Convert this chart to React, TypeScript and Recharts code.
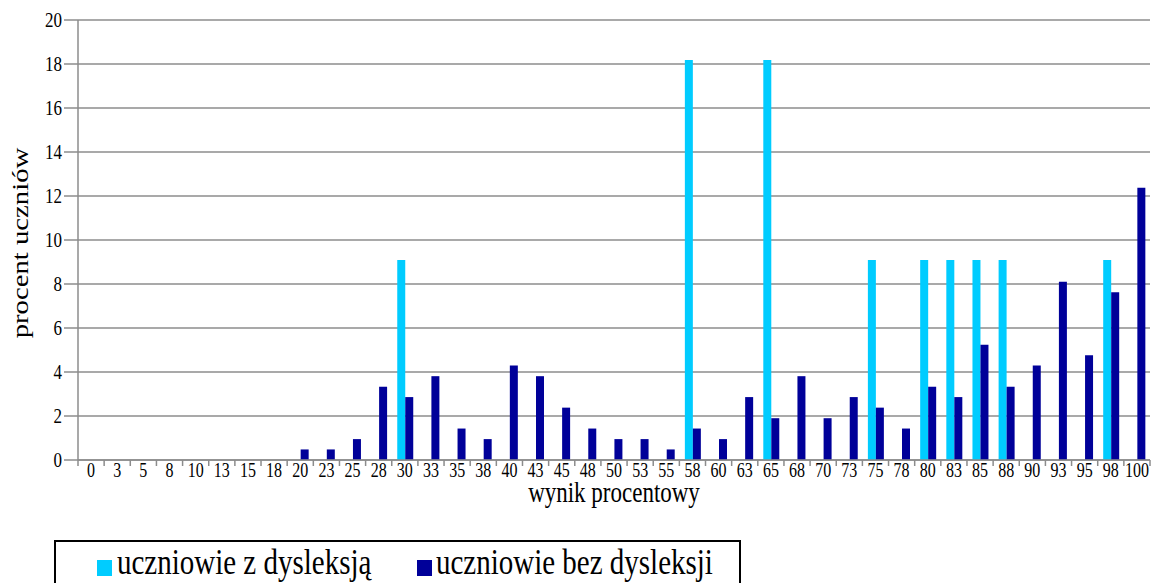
import React from 'react';
import { BarChart, Bar, XAxis, YAxis, CartesianGrid, Label } from 'recharts';

const categories = [
  '0', '3', '5', '8', '10', '13', '15', '18', '20', '23', '25', '28', '30', '33',
  '35', '38', '40', '43', '45', '48', '50', '53', '55', '58', '60', '63', '65',
  '68', '70', '73', '75', '78', '80', '83', '85', '88', '90', '93', '95', '98', '100',
];

// uczniowie z dysleksją (%)
const withDyslexia = [
  0, 0, 0, 0, 0, 0, 0, 0, 0, 0, 0, 0, 9.09, 0,
  0, 0, 0, 0, 0, 0, 0, 0, 0, 18.18, 0, 0, 18.18,
  0, 0, 0, 9.09, 0, 9.09, 9.09, 9.09, 9.09, 0, 0, 0, 9.09, 0,
];

// uczniowie bez dysleksji (%)
const withoutDyslexia = [
  0, 0, 0, 0, 0, 0, 0, 0, 0.48, 0.48, 0.95, 3.33, 2.86, 3.81,
  1.43, 0.95, 4.29, 3.81, 2.38, 1.43, 0.95, 0.95, 0.48, 1.43, 0.95, 2.86, 1.9,
  3.81, 1.9, 2.86, 2.38, 1.43, 3.33, 2.86, 5.24, 3.33, 4.29, 8.1, 4.76, 7.62, 12.38,
];

const yTicks = [0, 2, 4, 6, 8, 10, 12, 14, 16, 18, 20];

const seriesNames = ['uczniowie z dysleksją', 'uczniowie bez dysleksji'];
const seriesColors = ['#00ccff', '#000099'];

const data = categories.map((score, i) => ({
  score,
  dys: withDyslexia[i],
  noDys: withoutDyslexia[i],
}));

const FONT = '"Liberation Serif", "Times New Roman", serif';
const GRID = '#8c8c8c';
const PLOT_LEFT = 78;
const PLOT_RIGHT = 1150;
const band = (PLOT_RIGHT - PLOT_LEFT) / categories.length;
// the source picture is stretched vertically a bit
const STRETCH = 1.25;

const XTick = (props: any) => {
  const { x, y, payload, index } = props;
  return (
    <g>
      <line x1={x - band / 2} x2={x - band / 2} y1={y} y2={y + 6} stroke={GRID} strokeWidth={1.5} />
      {index === categories.length - 1 && (
        <line x1={x + band / 2} x2={x + band / 2} y1={y} y2={y + 6} stroke={GRID} strokeWidth={1.5} />
      )}
      <text
        transform={`translate(${x},${y + 17}) scale(1,${STRETCH})`}
        textAnchor="middle"
        fontSize={16}
        fill="#000"
        fontFamily={FONT}
        style={{ fontFamily: FONT }}
      >
        {payload.value}
      </text>
    </g>
  );
};

const YTick = (props: any) => {
  const { x, y, payload } = props;
  return (
    <text
      transform={`translate(${x},${y}) scale(1,1.2)`}
      textAnchor="end"
      dominantBaseline="central"
      fontSize={17}
      fill="#000"
      fontFamily={FONT}
      style={{ fontFamily: FONT }}
    >
      {payload.value}
    </text>
  );
};

const App: React.FC = () => {
  return (
    <div style={{ position: 'absolute', left: 0, top: 0, width: 1154, height: 583, background: '#fff' }}>
      <BarChart
        width={1154}
        height={583}
        data={data}
        margin={{ top: 20, right: 4, left: 0, bottom: 93 }}
        barCategoryGap="21%"
        barGap={0}
      >
        <CartesianGrid vertical={false} stroke={GRID} strokeWidth={1.5} />
        <XAxis
          dataKey="score"
          height={30}
          interval={0}
          tickLine={false}
          tickSize={0}
          tickMargin={0}
          axisLine={{ stroke: GRID, strokeWidth: 1.5 }}
          tick={<XTick />}
        >
          <Label
            content={(p: any) => {
              const vb = p.viewBox;
              return (
                <text
                  transform={`translate(${vb.x + vb.width / 2},502) scale(1,${STRETCH})`}
                  textAnchor="middle"
                  fontSize={23}
                  fontFamily={FONT}
                  style={{ fontFamily: FONT }}
                  fill="#000"
                >
                  wynik procentowy
                </text>
              );
            }}
          />
        </XAxis>
        <YAxis
          width={78}
          domain={[0, 20]}
          ticks={yTicks}
          interval={0}
          tickSize={14}
          tickMargin={2}
          tickLine={{ stroke: GRID, strokeWidth: 1.5 }}
          axisLine={{ stroke: GRID, strokeWidth: 1.5 }}
          tick={<YTick />}
        >
          <Label
            content={() => (
              <text
                transform={`translate(20,243) rotate(-90) scale(${STRETCH},1)`}
                textAnchor="middle"
                dominantBaseline="central"
                fontSize={23}
                fontFamily={FONT}
                style={{ fontFamily: FONT }}
                fill="#000"
              >
                procent uczniów
              </text>
            )}
          />
        </YAxis>
        <YAxis
          yAxisId="right"
          orientation="right"
          width={0}
          domain={[0, 20]}
          tick={false}
          tickLine={false}
          axisLine={{ stroke: GRID, strokeWidth: 1.5 }}
        />
        <Bar dataKey="dys" name={seriesNames[0]} fill={seriesColors[0]} isAnimationActive={false} />
        <Bar dataKey="noDys" name={seriesNames[1]} fill={seriesColors[1]} isAnimationActive={false} />
      </BarChart>
      <svg
        width={1154}
        height={583}
        style={{ position: 'absolute', left: 0, top: 0, pointerEvents: 'none' }}
      >
        <rect x={55} y={541} width={685} height={60} fill="none" stroke="#000" strokeWidth={2} />
        <rect x={97} y={560} width={15} height={16} fill={seriesColors[0]} />
        <text
          transform={`translate(117,574) scale(1,${STRETCH})`}
          fontSize={29}
          fontFamily={FONT}
          style={{ fontFamily: FONT }}
          fill="#000"
        >
          {seriesNames[0]}
        </text>
        <rect x={417} y={560} width={15} height={16} fill={seriesColors[1]} />
        <text
          transform={`translate(436,574) scale(1,${STRETCH})`}
          fontSize={29}
          fontFamily={FONT}
          style={{ fontFamily: FONT }}
          fill="#000"
        >
          {seriesNames[1]}
        </text>
      </svg>
    </div>
  );
};

export default App;
